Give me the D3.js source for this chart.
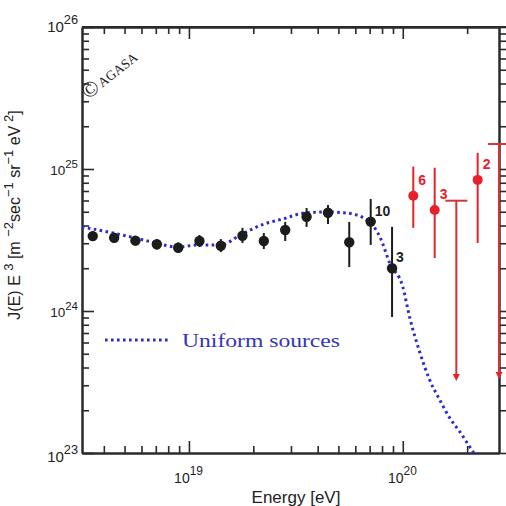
<!DOCTYPE html>
<html>
<head>
<meta charset="utf-8">
<script src="https://cdn.jsdelivr.net/npm/d3@7"></script>
<style>
  html, body { margin: 0; padding: 0; background: #fff; }
  svg { display: block; }
</style>
</head>
<body>
<svg id="chart" width="506" height="506"></svg>
<script>
// AGASA energy spectrum (flux times E^3)
const energies = [3.55e18, 4.47e18, 5.62e18, 7.08e18, 8.91e18, 1.12e19, 1.41e19, 1.78e19,
                  2.24e19, 2.82e19, 3.55e19, 4.47e19, 5.62e19, 7.08e19, 8.91e19];
const fluxes   = [3.37e24, 3.28e24, 3.13e24, 2.95e24, 2.79e24, 3.11e24, 2.88e24, 3.39e24,
                  3.11e24, 3.72e24, 4.61e24, 4.92e24, 3.05e24, 4.26e24, 2.00e24];
const fluxLow  = [3.11e24, 3.03e24, 2.89e24, 2.71e24, 2.56e24, 2.82e24, 2.60e24, 3.01e24,
                  2.73e24, 3.11e24, 3.91e24, 4.10e24, 2.04e24, 2.92e24, 9.08e23];
const fluxHigh = [3.66e24, 3.54e24, 3.37e24, 3.21e24, 3.04e24, 3.43e24, 3.21e24, 3.85e24,
                  3.54e24, 4.24e24, 5.31e24, 5.57e24, 4.24e24, 6.15e24, 3.91e24];
const eventCounts = [null, null, null, null, null, null, null, null,
                     null, null, null, null, null, "10", "3"];

// Highest-energy bins (beyond the GZK cutoff)
const hiEnergies = [1.12e20, 1.41e20, 2.24e20];
const hiFluxes   = [6.49e24, 5.14e24, 8.38e24];
const hiLow      = [3.85e24, 2.36e24, 3.01e24];
const hiHigh     = [1.04e25, 1.02e25, 1.30e25];
const hiCounts   = ["6", "3", "2"];

// Upper limits
const limEnergies = [1.78e20, 2.82e20];
const limFluxes   = [5.98e24, 1.50e25];
const limArrowTo  = [3.27e23, 3.37e23];

// Expected spectrum for uniformly distributed sources
const modelEnergies = [3.16e18, 4.42e18, 5.60e18, 7.01e18, 8.79e18, 1.11e19, 1.40e19, 1.77e19,
                       2.19e19, 2.75e19, 3.48e19, 4.42e19, 5.47e19, 6.79e19, 7.82e19, 8.69e19,
                       1.00e20, 1.079e20, 1.20e20, 1.336e20, 1.49e20, 1.66e20, 1.85e20, 2.06e20, 2.15e20];
const modelFluxes   = [3.91e24, 3.54e24, 3.27e24, 3.01e24, 2.82e24, 2.92e24, 2.92e24, 3.48e24,
                       4.04e24, 4.45e24, 4.90e24, 4.98e24, 4.90e24, 4.38e24, 3.32e24, 2.18e24,
                       1.48e24, 8.93e23, 5.14e23, 3.27e23, 2.36e23, 1.76e23, 1.41e23, 1.10e23, 1.00e23];
const legendLabel = "Uniform sources";

const xMajor = [1e19, 1e20];
const xMinor = [4e18, 5e18, 6e18, 7e18, 8e18, 9e18,
                2e19, 3e19, 4e19, 5e19, 6e19, 7e19, 8e19, 9e19, 2e20];
const yMajor = [1e23, 1e24, 1e25, 1e26];
const yMinor = [];
[1e23, 1e24, 1e25].forEach(d => { for (let k = 2; k <= 9; k++) yMinor.push(d * k); });

const svg = d3.select("#chart");
const L = 82, R = 499, T = 27, B = 453;

const x = d3.scaleLog().domain([Math.pow(10, 18.5), Math.pow(10, 20.45)]).range([L, R]);
const y = d3.scaleLog().domain([1e23, 1e26]).range([B, T]);

const axisColor = "#2a2a2a";
const black = "#1c1c1c";
const red = "#e8202a";
const blue = "#2b2bd0";

// ---- axes and frame
function styleAxis(g) {
  g.selectAll("path.domain").attr("stroke", axisColor).attr("stroke-width", 2);
  g.selectAll(".tick line").attr("stroke", axisColor).attr("stroke-width", 1.6);
  g.selectAll(".tick text").remove();
}
svg.append("g").attr("transform", `translate(0,${B})`)
  .call(d3.axisBottom(x).tickValues(xMinor).tickSize(-7).tickSizeOuter(0)).call(styleAxis);
svg.append("g").attr("transform", `translate(0,${B})`)
  .call(d3.axisBottom(x).tickValues(xMajor).tickSize(-12).tickSizeOuter(0)).call(styleAxis);
svg.append("g").attr("transform", `translate(0,${T})`)
  .call(d3.axisTop(x).tickValues(xMinor).tickSize(-7).tickSizeOuter(0)).call(styleAxis);
svg.append("g").attr("transform", `translate(0,${T})`)
  .call(d3.axisTop(x).tickValues(xMajor).tickSize(-12).tickSizeOuter(0)).call(styleAxis);
svg.append("g").attr("transform", `translate(${L},0)`)
  .call(d3.axisLeft(y).tickValues(yMinor).tickSize(-7).tickSizeOuter(0)).call(styleAxis);
svg.append("g").attr("transform", `translate(${L},0)`)
  .call(d3.axisLeft(y).tickValues(yMajor).tickSize(-12).tickSizeOuter(0)).call(styleAxis);
svg.append("g").attr("transform", `translate(${R},0)`)
  .call(d3.axisRight(y).tickValues(yMinor).tickSize(7).tickSizeOuter(0)).call(styleAxis);
svg.append("g").attr("transform", `translate(${R},0)`)
  .call(d3.axisRight(y).tickValues(yMajor).tickSize(10).tickSizeOuter(0)).call(styleAxis);
// extend the top frame line to the edge
svg.append("line").attr("x1", L).attr("x2", 506).attr("y1", T).attr("y2", T)
  .attr("stroke", axisColor).attr("stroke-width", 2);

// ---- tick labels (powers of ten)
const font = "'Liberation Sans', Arial, Helvetica, sans-serif";
const serif = "'Liberation Serif', 'Times New Roman', serif";
function powLabel(g, px, py, exp, size) {
  const t = g.append("text").attr("x", px).attr("y", py)
    .attr("font-family", font).attr("font-size", size).attr("fill", "#222")
    .attr("text-anchor", "end");
  t.append("tspan").text("10");
  t.append("tspan").attr("dy", -size * 0.55).attr("font-size", size * 0.85).text(exp);
}
const labels = svg.append("g");
yMajor.forEach(v => {
  const e = Math.round(Math.log10(v));
  const big = (e === 23 || e === 26);
  powLabel(labels, 78, y(v) + (big ? 7 : 6) + (e === 26 ? -2 : 0) + (e === 23 ? 2 : 0), String(e), big ? 15 : 13.5);
});
xMajor.forEach(v => {
  const e = Math.round(Math.log10(v));
  powLabel(labels, x(v) + 14, 483, String(e), 14);
});

// ---- axis titles
svg.append("text")
  .attr("x", 296).attr("y", 503).attr("text-anchor", "middle")
  .attr("font-family", font).attr("font-size", 17).attr("fill", "#222")
  .text("Energy [eV]");

const yt = svg.append("text")
  .attr("transform", "translate(20,215) rotate(-90)")
  .attr("text-anchor", "middle")
  .attr("font-family", font).attr("font-size", 16).attr("fill", "#222");
const yParts = [["J(E) E ", 0], ["3", 1], [" [m ", 0], ["\u22122", 1], ["sec", 0], ["\u22121", 1],
                [" sr", 0], ["\u22121", 1], [" eV", 0], [" 2", 1], ["]", 0]];
let raised = false;
yParts.forEach(([s, sup]) => {
  const ts = yt.append("tspan").text(s);
  if (sup && !raised) { ts.attr("dy", -7).attr("font-size", 13); raised = true; }
  else if (sup && raised) { ts.attr("font-size", 13); }
  else if (!sup && raised) { ts.attr("dy", 7); raised = false; }
});

// ---- AGASA mark
const ag = svg.append("text")
  .attr("transform", "translate(88,100) rotate(-38)")
  .attr("font-family", serif).attr("fill", "#222");
ag.append("tspan").attr("font-size", 22).text("\u00A9");
ag.append("tspan").attr("font-size", 13.5).attr("dx", 2).attr("dy", -1).text("AGASA");

// ---- model curve
const line = d3.line().x(d => x(d[0])).y(d => y(d[1])).curve(d3.curveMonotoneX);
svg.append("path")
  .datum(modelEnergies.map((e, i) => [e, modelFluxes[i]]))
  .attr("d", line).attr("fill", "none")
  .attr("stroke", blue).attr("stroke-width", 3).attr("stroke-dasharray", "2.6,3.4");

// ---- legend
svg.append("line").attr("x1", 105).attr("x2", 170).attr("y1", 340).attr("y2", 340)
  .attr("stroke", blue).attr("stroke-width", 3).attr("stroke-dasharray", "2.6,3.4");
svg.append("text").attr("x", 182).attr("y", 347)
  .attr("font-family", serif).attr("font-size", 19)
  .attr("textLength", 158).attr("lengthAdjust", "spacingAndGlyphs")
  .attr("fill", "#3535b8").text(legendLabel);

// ---- measured points
const pts = energies.map((e, i) => ({ e, f: fluxes[i], lo: fluxLow[i], hi: fluxHigh[i], n: eventCounts[i] }));
const gPts = svg.append("g");
gPts.selectAll("line.err").data(pts).join("line")
  .attr("x1", d => x(d.e)).attr("x2", d => x(d.e))
  .attr("y1", d => y(d.lo)).attr("y2", d => y(d.hi))
  .attr("stroke", black).attr("stroke-width", 2);
gPts.selectAll("circle").data(pts).join("circle")
  .attr("cx", d => x(d.e)).attr("cy", d => y(d.f)).attr("r", 5.2).attr("fill", black);
gPts.selectAll("text").data(pts.filter(d => d.n)).join("text")
  .attr("x", d => x(d.e) + 4).attr("y", d => y(d.f) - 6)
  .attr("font-family", font).attr("font-weight", "bold").attr("font-size", 14)
  .attr("fill", "#222").text(d => d.n);

const hpts = hiEnergies.map((e, i) => ({ e, f: hiFluxes[i], lo: hiLow[i], hi: hiHigh[i], n: hiCounts[i] }));
const gHi = svg.append("g");
gHi.selectAll("line.err").data(hpts).join("line")
  .attr("x1", d => x(d.e)).attr("x2", d => x(d.e))
  .attr("y1", d => y(d.lo)).attr("y2", d => y(d.hi))
  .attr("stroke", red).attr("stroke-width", 2);
gHi.selectAll("circle").data(hpts).join("circle")
  .attr("cx", d => x(d.e)).attr("cy", d => y(d.f)).attr("r", 5).attr("fill", red);
gHi.selectAll("text").data(hpts).join("text")
  .attr("x", d => x(d.e) + 5).attr("y", d => y(d.f) - 11)
  .attr("font-family", font).attr("font-weight", "bold").attr("font-size", 14)
  .attr("fill", red).text(d => d.n);

// ---- upper limits
const lims = limEnergies.map((e, i) => ({ e, f: limFluxes[i], to: limArrowTo[i] }));
const gLim = svg.append("g");
gLim.selectAll("line.cap").data(lims).join("line")
  .attr("x1", d => x(d.e) - 11).attr("x2", d => x(d.e) + 11)
  .attr("y1", d => y(d.f)).attr("y2", d => y(d.f))
  .attr("stroke", "#d03838").attr("stroke-width", 2);
gLim.selectAll("line.stem").data(lims).join("line")
  .attr("x1", d => x(d.e)).attr("x2", d => x(d.e))
  .attr("y1", d => y(d.f)).attr("y2", d => y(d.to) - 4)
  .attr("stroke", "#d83030").attr("stroke-width", 2);
gLim.selectAll("path").data(lims).join("path")
  .attr("d", d => {
    const cx = x(d.e), cy = y(d.to);
    return `M${cx - 3.5},${cy - 6}L${cx + 3.5},${cy - 6}L${cx},${cy + 1}Z`;
  })
  .attr("fill", red);
</script>
</body>
</html>
